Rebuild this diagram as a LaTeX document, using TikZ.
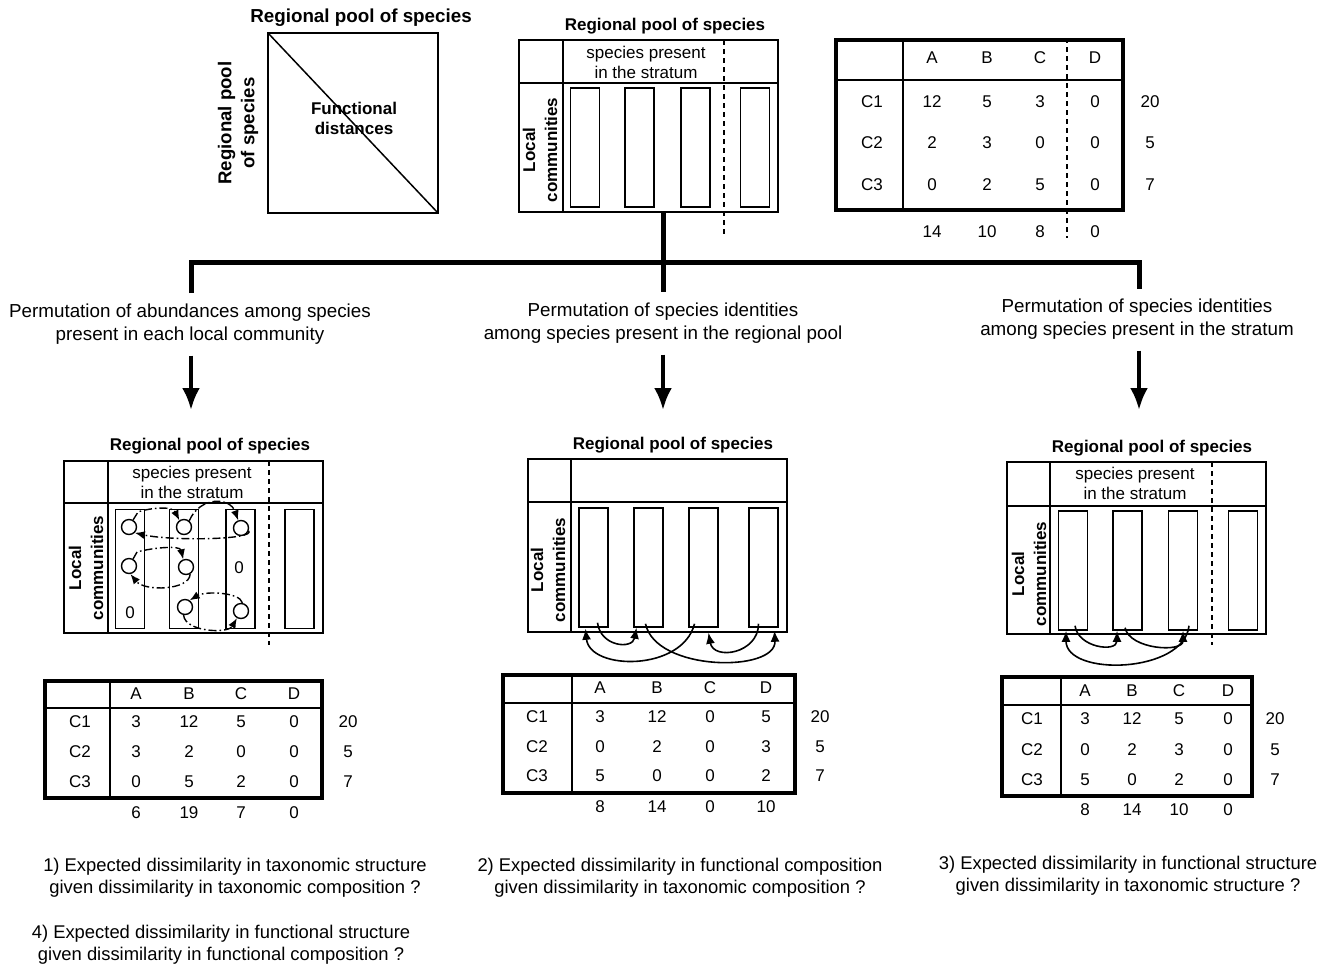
\documentclass[tikz,border=0pt]{standalone}
\usepackage{fontspec}
\setmainfont{Liberation Sans}
\usetikzlibrary{calc,arrows.meta}

\begin{document}
\begin{tikzpicture}[x=0.5pt,y=-0.5pt,
    txt/.style={inner sep=0pt, align=center, font=\fontsize{9.4}{11.5}\selectfont},
    question/.style={inner sep=0pt, align=center, font=\fontsize{9.2}{11}\selectfont},
    bigtitle/.style={inner sep=0pt, font=\fontsize{9.4}{11}\selectfont\bfseries},
    bigside/.style={inner sep=0pt, align=center, rotate=90, font=\fontsize{9.3}{11.5}\selectfont\bfseries},
    pooltitle/.style={inner sep=0pt, font=\fontsize{8.5}{10}\selectfont\bfseries},
    side/.style={inner sep=0pt, align=center, rotate=90, font=\fontsize{8.5}{11}\selectfont\bfseries},
    cell/.style={inner sep=0pt, font=\fontsize{8.5}{10}\selectfont},
    col/.style={draw, line width=0.75pt, minimum width=14.5pt, minimum height=59.5pt, inner sep=0pt},
    spot/.style={draw, circle, line width=0.7pt, minimum size=7.5pt, inner sep=0pt},
    boxline/.style={line width=0.75pt},
    tabframe/.style={line width=1.6pt},
    tabline/.style={line width=1pt},
    stratum/.style={line width=0.75pt, dash pattern=on 2.5pt off 2pt},
    swaparrow/.style={-{Latex[length=5pt,width=4pt]}, line width=0.7pt, dash pattern=on 4pt off 1.5pt on 0.8pt off 1.5pt},
    permarrow/.style={-{Latex[length=5.5pt,width=4.5pt]}, line width=0.8pt},
    treeline/.style={line width=2.5pt},
    bigarrow/.style={-{Latex[length=11pt,width=9pt]}, line width=2pt}
  ]
\useasboundingbox (0,0) rectangle (1336,969);

% functional distances
\node[bigtitle] (fd-top) at (361,18) {Regional pool of species};
\node[bigside] (fd-side) at (238,123) {Regional pool\\of species};
\draw[boxline] (268,33) rectangle (438,213);
\draw[boxline] (268,33) -- (438,213);% diagonal
\node[pooltitle, align=center] (fd) at (354,118) {Functional\\distances};

% observed communities
\node[pooltitle] (pool0) at (665,26) {Regional pool of species};
\draw[boxline] (519,40) rectangle (778,212);
\draw[boxline] (519,83) -- (778,83) (563,40) -- (563,212);
\draw[stratum] (724,40) -- (724,235);
\node[cell, align=center] (strat0) at (646,62) {species present\\in the stratum};
\node[side] (loc0) at (540,150) {Local\\communities};
\foreach \x [count=\i] in {585,639.5,695.5,755}
  \node[col] (obs\i) at (\x,147.5) {};

% observed abundances
\draw[tabframe] (836,40) rectangle (1123,210);
\draw[tabline] (836,80) -- (1123,80) (903,40) -- (903,210);
\draw[stratum] (1067,38) -- (1067,238);
\foreach \sp/\x in {A/932,B/987,C/1040,D/1095}
  \node[cell] (tab0-\sp) at (\x,58) {\sp};
\foreach \com/\y/\va/\vb/\vc/\vd/\vn in {C1/102/12/5/3/0/20,C2/143/2/3/0/0/5,C3/185/0/2/5/0/7}{
  \node[cell] (tab0-\com) at (872,\y) {\com};
  \node[cell] (tab0-\com-A) at (932,\y) {\va};
  \node[cell] (tab0-\com-B) at (987,\y) {\vb};
  \node[cell] (tab0-\com-C) at (1040,\y) {\vc};
  \node[cell] (tab0-\com-D) at (1095,\y) {\vd};
  \node[cell] (tab0-\com-n) at (1150,\y) {\vn};
}
\foreach \sp/\x/\v in {A/932/14,B/987/10,C/1040/8,D/1095/0}
  \node[cell] (tab0-tot-\sp) at (\x,232) {\v};

% the three null models
\coordinate (stem) at (663,212);
\coordinate (dropL) at (191,293);
\coordinate (forkL) at (191,262);
\coordinate (forkR) at (1139,262);
\coordinate (dropR) at (1139,289);
\coordinate (dropM) at (663,292);
\draw[treeline] (dropL) -- (forkL) -- (forkR) -- (dropR);
\draw[treeline] (stem) -- (dropM);

\node[txt] (perm1) at (190,324) {Permutation of abundances among species\\present in each local community};
\node[txt] (perm2) at (663,323) {Permutation of species identities\\among species present in the regional pool};
\node[txt] (perm3) at (1137,319) {Permutation of species identities\\among species present in the stratum};

\coordinate (in1) at (191,410);
\coordinate (in2) at (663,410);
\coordinate (in3) at (1139,410);
\draw[bigarrow] ($(perm1.south -| in1)+(0,11)$) -- (in1);
\draw[bigarrow] ($(perm2.south -| in2)+(0,11)$) -- (in2);
\draw[bigarrow] ($(perm3.south -| in3)+(0,11)$) -- (in3);

% model 1: abundances within communities
\node[pooltitle] (pool1) at (210,446) {Regional pool of species};
\draw[boxline] (64,461) rectangle (323,633);
\draw[boxline] (64,503) -- (323,503) (108,461) -- (108,633);
\draw[stratum] (269,461) -- (269,645);
\node[cell, align=center] (strat1) at (192,482) {species present\\in the stratum};
\node[side] (loc1) at (86,568) {Local\\communities};
\foreach \x [count=\i] in {130,184,240.5,299.5}
  \node[col] (ab\i) at (\x,569) {};

\node[spot] (a1) at (129,527) {};
\node[spot] (a2) at (129,566) {};
\node[cell] (a3) at (130,613) {0};
\node[spot] (b1) at (184,527) {};
\node[spot] (b2) at (186,567) {};
\node[spot] (b3) at (185,607) {};
\node[spot] (c1) at (241,528) {};
\node[cell] (c2) at (239,568) {0};
\node[spot] (c3) at (241,611) {};

\draw[swaparrow] (a1.60) -- +(5,-8) .. controls +(8,-3) and (172,505) .. (b1.125);
\draw[swaparrow] (b1.50) .. controls (200,496) and (230,497) .. (c1.110);
\draw[swaparrow] (c1.-20) .. controls (256,540) and (170,541) .. (a1.-45);
\draw[swaparrow] (a2.60) -- +(4,-7) .. controls +(15,-4) and (180,545) .. (b2.110);
\draw[swaparrow] (b2.-60) .. controls (190,590) and (145,592) .. (a2.-80);
\draw[swaparrow] (c3.80) .. controls (240,592) and (205,591) .. (b3.55);
\draw[swaparrow] (b3.-100) .. controls (185,632) and (228,634) .. (c3.-120);

\draw[tabframe] (45,681) rectangle (322,798);
\draw[tabline] (45,708) -- (322,708) (110,681) -- (110,798);
\foreach \sp/\x in {A/136,B/189,C/241,D/294}
  \node[cell] (tab1-\sp) at (\x,694) {\sp};
\foreach \com/\y/\va/\vb/\vc/\vd/\vn in {C1/722/3/12/5/0/20,C2/752/3/2/0/0/5,C3/782/0/5/2/0/7}{
  \node[cell] (tab1-\com) at (80,\y) {\com};
  \node[cell] (tab1-\com-A) at (136,\y) {\va};
  \node[cell] (tab1-\com-B) at (189,\y) {\vb};
  \node[cell] (tab1-\com-C) at (241,\y) {\vc};
  \node[cell] (tab1-\com-D) at (294,\y) {\vd};
  \node[cell] (tab1-\com-n) at (348,\y) {\vn};
}
\foreach \sp/\x/\v in {A/136/6,B/189/19,C/241/7,D/294/0}
  \node[cell] (tab1-tot-\sp) at (\x,813) {\v};

% model 2: species identities within the regional pool
\node[pooltitle] (pool2) at (673,445) {Regional pool of species};
\draw[boxline] (528,459) rectangle (787,632);
\draw[boxline] (528,502) -- (787,502) (571,459) -- (571,632);
\node[side] (loc2) at (548,570) {Local\\communities};
\foreach \x [count=\i] in {593.5,648.5,703.5,763.5}
  \node[col] (reg\i) at (\x,567.5) {};

\draw[permarrow] ($(reg1.south)+(4,-5)$) .. controls +(3,24) and +(-4,22) .. ($(reg2.south)+(-12,0)$);
\draw[permarrow] ($(reg2.south)+(-3,-4)$) .. controls +(10,48) and +(2,42) .. ($(reg4.south)+(11,3)$);
\draw[permarrow] ($(reg3.south)+(-9,-4)$) .. controls +(-12,48) and +(4,42) .. ($(reg1.south)+(-8,1)$);
\draw[permarrow] ($(reg4.south)+(-5,-4)$) .. controls +(0,30) and +(5,28) .. ($(reg3.south)+(5,5)$);

\draw[tabframe] (503,675) rectangle (795,793);
\draw[tabline] (503,703) -- (795,703) (572,675) -- (572,793);
\foreach \sp/\x in {A/600,B/657,C/710,D/766}
  \node[cell] (tab2-\sp) at (\x,688) {\sp};
\foreach \com/\y/\va/\vb/\vc/\vd/\vn in {C1/717/3/12/0/5/20,C2/747/0/2/0/3/5,C3/776/5/0/0/2/7}{
  \node[cell] (tab2-\com) at (537,\y) {\com};
  \node[cell] (tab2-\com-A) at (600,\y) {\va};
  \node[cell] (tab2-\com-B) at (657,\y) {\vb};
  \node[cell] (tab2-\com-C) at (710,\y) {\vc};
  \node[cell] (tab2-\com-D) at (766,\y) {\vd};
  \node[cell] (tab2-\com-n) at (820,\y) {\vn};
}
\foreach \sp/\x/\v in {A/600/8,B/657/14,C/710/0,D/766/10}
  \node[cell] (tab2-tot-\sp) at (\x,807) {\v};

% model 3: species identities within the stratum
\node[pooltitle] (pool3) at (1152,448) {Regional pool of species};
\draw[boxline] (1007,462) rectangle (1266,634);
\draw[boxline] (1007,506) -- (1266,506) (1050,462) -- (1050,634);
\draw[stratum] (1212,462) -- (1212,645);
\node[cell, align=center] (strat3) at (1135,483) {species present\\in the stratum};
\node[side] (loc3) at (1029,574) {Local\\communities};
\foreach \x [count=\i] in {1073,1127.5,1183,1243}
  \node[col] (str\i) at (\x,570.5) {};

\draw[permarrow] ($(str1.south)+(2,-5)$) .. controls +(3,22) and +(0,22) .. ($(str2.south)+(-10.5,0)$);
\draw[permarrow] ($(str2.south)+(-2.5,-3)$) .. controls +(5,22) and +(0,22) .. ($(str3.south)+(0,0)$);
\draw[permarrow] ($(str3.south)+(6,-5)$) .. controls +(-5,48) and +(0,46) .. ($(str1.south)+(-7,0)$);

\draw[tabframe] (1002,677) rectangle (1252,796);
\draw[tabline] (1002,705) -- (1252,705) (1061,677) -- (1061,796);
\foreach \sp/\x in {A/1085,B/1132,C/1179,D/1228}
  \node[cell] (tab3-\sp) at (\x,691) {\sp};
\foreach \com/\y/\va/\vb/\vc/\vd/\vn in {C1/719/3/12/5/0/20,C2/750/0/2/3/0/5,C3/780/5/0/2/0/7}{
  \node[cell] (tab3-\com) at (1032,\y) {\com};
  \node[cell] (tab3-\com-A) at (1085,\y) {\va};
  \node[cell] (tab3-\com-B) at (1132,\y) {\vb};
  \node[cell] (tab3-\com-C) at (1179,\y) {\vc};
  \node[cell] (tab3-\com-D) at (1228,\y) {\vd};
  \node[cell] (tab3-\com-n) at (1275,\y) {\vn};
}
\foreach \sp/\x/\v in {A/1085/8,B/1132/14,C/1179/10,D/1228/0}
  \node[cell] (tab3-tot-\sp) at (\x,810) {\v};

% questions
\node[question] (q1) at (235,878) {1) Expected dissimilarity in taxonomic structure\\given dissimilarity in taxonomic composition ?};
\node[question] (q2) at (680,878) {2) Expected dissimilarity in functional composition\\given dissimilarity in taxonomic composition ?};
\node[question] (q3) at (1128,876) {3) Expected dissimilarity in functional structure\\given dissimilarity in taxonomic structure ?};
\node[question] (q4) at (221,945) {4) Expected dissimilarity in functional structure\\given dissimilarity in functional composition ?};
\end{tikzpicture}
\end{document}
